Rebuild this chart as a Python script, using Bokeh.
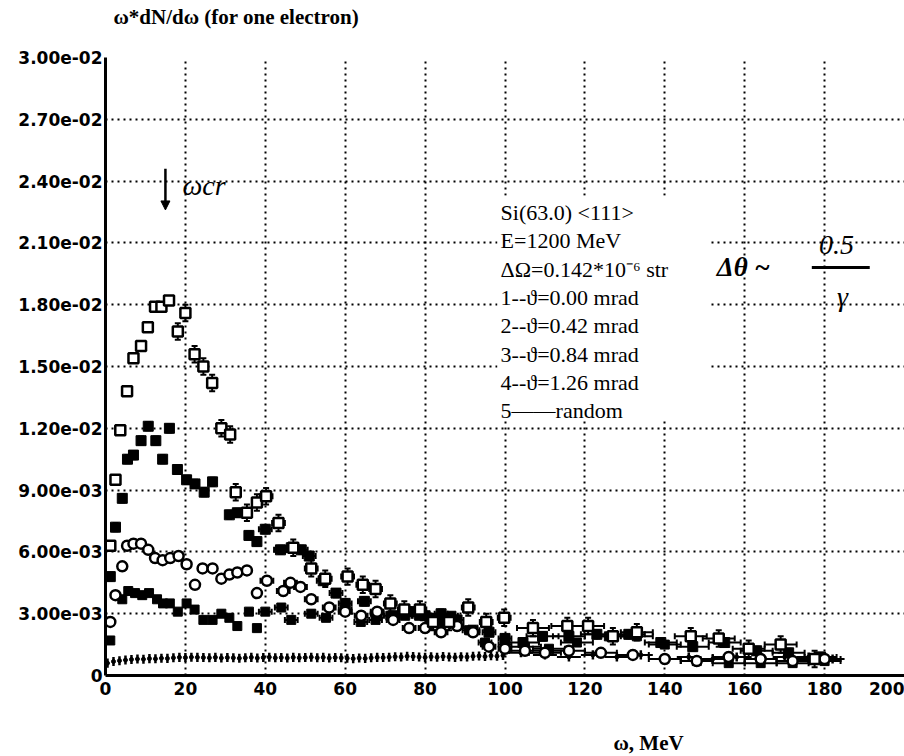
from bokeh.plotting import figure
from bokeh.models import (ColumnDataSource, FixedTicker, Whisker, TeeHead, Title,
                          BoxAnnotation, Arrow, NormalHead)
from bokeh.core.properties import value
from bokeh.embed import file_html
from bokeh.resources import INLINE

# ---------------- data ----------------
# series 1: theta = 0.00 mrad (open squares)
s1_x = [1.2, 2.5, 3.7, 5.4, 7.0, 8.9, 10.6, 12.4, 14.0, 15.9, 18.1, 20.0, 22.3, 24.5, 26.7,
        29.0, 31.2, 32.6, 35.4, 37.9, 40.2, 43.3, 47.0, 51.5, 55.0, 60.6, 64.4, 67.6, 71.3, 74.8,
        78.7, 82.0, 86.0, 90.8, 95.3, 99.8, 107.0, 115.6, 120.8, 127.0, 133.0, 146.5, 153.5,
        161.0, 169.0, 177.5]
s1_y = [0.0063, 0.0095, 0.0119, 0.0138, 0.0154, 0.0160, 0.0169, 0.0179, 0.0179, 0.0182,
        0.0167, 0.0176, 0.0156, 0.0150, 0.0142, 0.0120, 0.0117, 0.0089, 0.0079, 0.0084,
        0.0087, 0.0074, 0.0062, 0.0052, 0.0047, 0.0048, 0.0044, 0.0042, 0.0035, 0.0032,
        0.0032, 0.0026, 0.0026, 0.0033, 0.0026, 0.0028, 0.0023, 0.0024, 0.0024, 0.0019,
        0.0021, 0.0019, 0.0018, 0.0013, 0.0015, 0.0008]

# series 2: theta = 0.42 mrad (filled squares)
s2_x = [1.2, 2.5, 4.2, 5.5, 7.0, 8.9, 10.7, 12.6, 14.3, 16.0, 18.0, 20.3, 22.4, 24.7, 26.8,
        31.0, 33.0, 35.9, 37.9, 40.0, 43.8, 46.5, 49.0, 51.0, 54.5, 57.7, 60.0, 64.8, 68.0,
        72.0, 76.0, 80.0, 84.0, 88.0, 92.0, 96.0, 100.0, 104.5, 109.4, 116.0, 123.0, 131.0,
        139.0, 147.0, 155.0, 163.0, 171.0, 179.0]
s2_y = [0.0048, 0.0072, 0.0086, 0.0105, 0.0107, 0.0114, 0.0121, 0.0114, 0.0105, 0.0120,
        0.0100, 0.0095, 0.0093, 0.0089, 0.0094, 0.0078, 0.0079, 0.0068, 0.0065, 0.0071,
        0.0061, 0.0062, 0.0061, 0.0058, 0.0046, 0.0040, 0.0035, 0.0036, 0.0030, 0.0029,
        0.0031, 0.0029, 0.0030, 0.0027, 0.0022, 0.0021, 0.0018, 0.0016, 0.0019, 0.0019,
        0.0020, 0.0020, 0.0016, 0.0014, 0.0016, 0.0012, 0.0011, 0.0009]

# series 3: theta = 0.84 mrad (open circles)
s3_x = [1.2, 2.5, 4.2, 5.4, 7.0, 8.9, 10.7, 12.4, 14.3, 16.2, 18.3, 20.3, 22.4, 24.3, 26.8,
        29.0, 31.0, 33.0, 35.4, 37.9, 40.4, 44.5, 46.3, 48.8, 51.5, 56.0, 60.0, 64.0, 68.0,
        72.0, 76.0, 80.0, 84.0, 88.0, 92.0, 96.0, 100.0, 105.0, 110.0, 116.0, 124.0, 132.0,
        140.0, 148.0, 156.0, 164.0, 172.0, 180.0]
s3_y = [0.0026, 0.0039, 0.0053, 0.0063, 0.0064, 0.0064, 0.0061, 0.0057, 0.0056, 0.0057,
        0.0058, 0.0054, 0.0044, 0.0052, 0.0052, 0.0047, 0.0049, 0.0050, 0.0051, 0.0040,
        0.0046, 0.0041, 0.0045, 0.0043, 0.0037, 0.0033, 0.0031, 0.0029, 0.0031, 0.0027,
        0.0023, 0.0023, 0.0021, 0.0024, 0.0021, 0.0014, 0.0013, 0.0012, 0.0011, 0.0012,
        0.0011, 0.0010, 0.0008, 0.0007, 0.0009, 0.0008, 0.0007, 0.0008]

# series 4: theta = 1.26 mrad (filled squares, smaller)
s4_x = [1.2, 4.2, 5.7, 7.4, 9.2, 10.9, 12.9, 14.4, 16.1, 18.1, 20.3, 22.3, 24.5, 26.8, 29.0,
        31.0, 33.0, 35.9, 37.9, 40.0, 44.0, 46.5, 51.5, 55.2, 60.0, 63.9, 67.6, 71.3, 75.0,
        78.5, 81.7, 84.7, 86.6, 91.0, 95.0, 100.0, 105.0, 111.0, 118.0, 126.0, 133.0, 140.0,
        148.0, 156.0, 164.0, 172.0, 180.0]
s4_y = [0.0017, 0.0037, 0.0041, 0.0040, 0.0039, 0.0040, 0.0037, 0.0035, 0.0035, 0.0031,
        0.0035, 0.0032, 0.0027, 0.0027, 0.0030, 0.0028, 0.0024, 0.0031, 0.0023, 0.0031,
        0.0033, 0.0027, 0.0030, 0.0028, 0.0032, 0.0026, 0.0027, 0.0029, 0.0029, 0.0029,
        0.0027, 0.0026, 0.0029, 0.0022, 0.0016, 0.0015, 0.0014, 0.0013, 0.0016, 0.0019,
        0.0019, 0.0015, 0.0007, 0.0006, 0.0006, 0.0006, 0.0007]

# series 5: random orientation (small points)
s5_x = [0.5, 2.0, 3.5, 5.0, 6.5, 8.0, 9.5, 11.0, 12.5, 14.0, 15.5, 17.0, 18.5, 20.0, 21.5,
        23.0, 24.5, 26.0, 27.5, 29.0, 30.5, 32.0, 33.5, 35.0, 36.5, 38.0, 39.5, 41.0, 42.5,
        44.0, 45.5, 47.0, 48.5, 50.0, 51.5, 53.0, 54.5, 56.0, 57.5, 59.0, 60.5, 62.0, 63.5,
        65.0, 66.5, 68.0, 69.5, 71.0, 72.5, 74.0, 75.5, 77.0, 78.5, 80.0, 81.5, 83.0, 84.5,
        86.0, 87.5, 89.0, 90.5, 92.0, 93.5, 95.0, 96.5, 98.0, 99.5,
        104.0, 110.0, 116.0, 122.0, 128.0, 134.0, 140.0, 146.0, 152.0, 158.0, 164.0, 170.0,
        176.0, 182.0]
s5_y = [0.00060, 0.00068, 0.00072, 0.00075, 0.00078, 0.00080, 0.00079, 0.00082, 0.00081, 0.00084,
        0.00083, 0.00086, 0.00088, 0.00087, 0.00089, 0.00088, 0.00087, 0.00086, 0.00088, 0.00085,
        0.00087, 0.00086, 0.00084, 0.00086, 0.00088, 0.00085, 0.00087, 0.00089, 0.00086, 0.00087,
        0.00085, 0.00088, 0.00086, 0.00087, 0.00089, 0.00086, 0.00088, 0.00085, 0.00087, 0.00086,
        0.00084, 0.00082, 0.00085, 0.00083, 0.00086, 0.00088, 0.00087, 0.00089, 0.00091, 0.00090,
        0.00093, 0.00092, 0.00090, 0.00088, 0.00091, 0.00089, 0.00092, 0.00090, 0.00088, 0.00091,
        0.00090, 0.00093, 0.00095, 0.00092, 0.00096, 0.00094, 0.00097,
        0.0011, 0.0010, 0.0009, 0.0010, 0.0009, 0.0010, 0.0008, 0.0009, 0.0008, 0.0009,
        0.0008, 0.0009, 0.0009, 0.0008]

x_ticks = [0, 20, 40, 60, 80, 100, 120, 140, 160, 180, 200]
x_tick_labels = ["0", "20", "40", "60", "80", "100", "120", "140", "160", "180", "200"]
y_ticks = [0, 0.003, 0.006, 0.009, 0.012, 0.015, 0.018, 0.021, 0.024, 0.027, 0.03]
y_tick_labels = ["0", "3.00e-03", "6.00e-03", "9.00e-03", "1.20e-02", "1.50e-02",
                 "1.80e-02", "2.10e-02", "2.40e-02", "2.70e-02", "3.00e-02"]

title_text = "ω*dN/dω (for one electron)"
x_label_text = "ω, MeV"
legend_lines = ["Si(63.0) <111>", "E=1200 MeV", "ΔΩ=0.142*10⁻⁶ str",
                "1--ϑ=0.00 mrad", "2--ϑ=0.42 mrad", "3--ϑ=0.84 mrad",
                "4--ϑ=1.26 mrad", "5——random"]

# ---------------- figure ----------------
p = figure(width=904, height=756, x_range=(0, 200), y_range=(0, 0.03), title=None,
           output_backend="svg", toolbar_location=None,
           min_border_left=105, min_border_right=0, min_border_top=57, min_border_bottom=81)
p.background_fill_color = "white"
p.border_fill_color = "white"
p.outline_line_color = None

for ax in (p.xaxis[0], p.yaxis[0]):
    ax.axis_line_width = 3
    ax.axis_line_color = "black"
    ax.major_tick_out = 0
    ax.major_tick_in = 0
    ax.minor_tick_out = 0
    ax.minor_tick_in = 0
    ax.major_label_text_font = "DejaVu Sans"
    ax.major_label_text_font_style = "bold"
    ax.major_label_text_font_size = "17px"
    ax.major_label_text_color = "black"

p.xaxis.ticker = FixedTicker(ticks=x_ticks)
p.xaxis.major_label_overrides = dict(zip(x_ticks, x_tick_labels))
p.xaxis.major_label_standoff = 6
p.yaxis.ticker = FixedTicker(ticks=y_ticks)
p.yaxis.major_label_overrides = dict(zip(y_ticks, y_tick_labels))
p.yaxis.major_label_standoff = 3

p.xgrid.ticker = FixedTicker(ticks=x_ticks[1:])
p.ygrid.ticker = FixedTicker(ticks=y_ticks[1:])
for g in (p.xgrid[0], p.ygrid[0]):
    g.grid_line_color = "black"
    g.grid_line_width = 2
    g.grid_line_dash = "2 4"
    g.grid_line_alpha = 1.0

# title above (with a spacer between it and the frame)
p.add_layout(Title(text=" ", text_font_size="1px", standoff=26), "above")
p.add_layout(Title(text=title_text, align="left", offset=8, standoff=0,
                   text_font="Liberation Serif", text_font_size="21px",
                   text_font_style="bold", text_color="black"), "above")
# x-axis label below (spacer after the axis)
p.add_layout(Title(text=" ", text_font_size="1px", standoff=28), "below")
p.add_layout(Title(text=x_label_text, align="left", offset=508, standoff=0,
                   text_font="Liberation Serif", text_font_size="21px",
                   text_font_style="bold", text_color="black"), "below")

# white panel behind the text block (hides grid there)
p.add_layout(BoxAnnotation(left=98.1, right=150.9, bottom=0.01237, top=0.02329,
                           fill_color="white", fill_alpha=1.0, line_color=None,
                           level="underlay"))


def xerr_of(x):
    if x < 40:
        return 0.0
    return 1.6 if x < 102 else 4.0


def add_errors(xs, ys, yerr_fn, head=6):
    vs = ColumnDataSource(dict(x=xs, lo=[y - yerr_fn(x) for x, y in zip(xs, ys)],
                               hi=[y + yerr_fn(x) for x, y in zip(xs, ys)]))
    w = Whisker(source=vs, base="x", lower="lo", upper="hi", dimension="height",
                line_width=2, line_color="black", level="underlay",
                upper_head=TeeHead(size=head, line_width=2, line_color="black"),
                lower_head=TeeHead(size=head, line_width=2, line_color="black"))
    p.add_layout(w)
    hx = [(x, y) for x, y in zip(xs, ys) if xerr_of(x) > 0]
    if hx:
        hs = ColumnDataSource(dict(y=[v[1] for v in hx],
                                   lo=[v[0] - xerr_of(v[0]) for v in hx],
                                   hi=[v[0] + xerr_of(v[0]) for v in hx]))
        wh = Whisker(source=hs, base="y", lower="lo", upper="hi", dimension="width",
                     line_width=2, line_color="black", level="underlay",
                     upper_head=TeeHead(size=head, line_width=2, line_color="black"),
                     lower_head=TeeHead(size=head, line_width=2, line_color="black"))
        p.add_layout(wh)


add_errors(s1_x, s1_y, lambda x: 0.0004 if x > 17 else 0.0001)
add_errors(s2_x, s2_y, lambda x: 0.0002)
add_errors(s3_x, s3_y, lambda x: 0.0002)
add_errors(s4_x, s4_y, lambda x: 0.00015)

# random series: short vertical bars
p.segment(x0=s5_x, x1=s5_x, y0=[y - 0.00022 for y in s5_y], y1=[y + 0.00022 for y in s5_y],
          line_width=2.5, line_color="black")
r5h = [(x, y) for x, y in zip(s5_x, s5_y) if x > 102]
p.segment(x0=[v[0] - 3 for v in r5h], x1=[v[0] + 3 for v in r5h],
          y0=[v[1] for v in r5h], y1=[v[1] for v in r5h], line_width=2, line_color="black")
p.scatter(s5_x, s5_y, marker="circle", size=4, color="black")

p.scatter(s4_x, s4_y, marker="square", size=9, fill_color="black", line_color="black")
p.scatter(s2_x, s2_y, marker="square", size=10, fill_color="black", line_color="black")
p.scatter(s3_x, s3_y, marker="circle", size=10, fill_color="white", line_color="black",
          line_width=2.5)
p.scatter(s1_x, s1_y, marker="square", size=10, fill_color="white", line_color="black",
          line_width=2.5)

# text block
leg_y0 = 0.02247
leg_dy = 0.001374
p.text(x=[98.9] * len(legend_lines), y=[leg_y0 - i * leg_dy for i in range(len(legend_lines))],
       text=legend_lines, text_font=value("Liberation Serif"), text_font_size="22px",
       text_baseline="middle", text_align="left", text_color="black")

# handwritten annotations
p.add_layout(Arrow(end=NormalHead(size=9, fill_color="black", line_color="black"),
                   x_start=15.0, y_start=0.0246, x_end=15.0, y_end=0.0226,
                   line_width=2.5, line_color="black"))
p.text(x=[19.3], y=[0.0238], text=["ωcr"], text_font=value("Liberation Serif"),
       text_font_size="28px", text_font_style="italic", text_baseline="middle",
       text_align="left", text_color="black")
p.text(x=[153.0], y=[0.01985], text=["Δθ ~"], text_font=value("Liberation Serif"),
       text_font_size="27px", text_font_style="bold italic", text_baseline="middle",
       text_align="left", text_color="black")
p.text(x=[183.0], y=[0.02092], text=["0.5"], text_font=value("Liberation Serif"),
       text_font_size="28px", text_font_style="italic", text_baseline="middle",
       text_align="center", text_color="black")
p.segment(x0=[176.8], x1=[191.3], y0=[0.0198], y1=[0.0198], line_width=3, line_color="black")
p.text(x=[184.5], y=[0.0184], text=["γ"], text_font=value("Liberation Serif"),
       text_font_size="28px", text_font_style="italic", text_baseline="middle",
       text_align="center", text_color="black")

open("out.html", "w").write(file_html(p, INLINE))
